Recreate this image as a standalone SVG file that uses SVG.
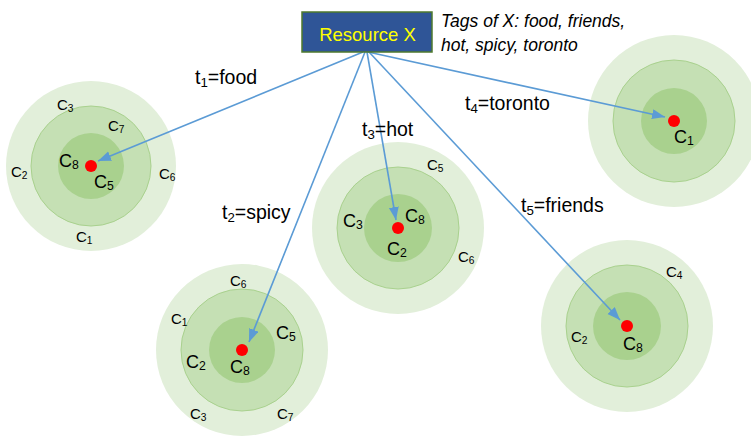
<svg xmlns="http://www.w3.org/2000/svg" width="751" height="436" viewBox="0 0 751 436">
<defs>
<style>
.o{fill:#E2EFDA}
.m{fill:#C5E0B4;stroke:#A9D18E;stroke-width:1}
.i{fill:#A9D18E}
.d{fill:#FF0000}
.c{stroke:#5B9BD5;stroke-width:1.6;fill:none;marker-end:url(#ah)}
text{font-family:"Liberation Sans",Arial,sans-serif;fill:#000}
.s{font-size:15px}
.l{font-size:18px}
.t{font-size:19.5px}
.sub{font-size:68%}
</style>
<marker id="ah" markerUnits="userSpaceOnUse" markerWidth="14" markerHeight="12" refX="13" refY="5" orient="auto">
<path d="M0,0 L13,5 L0,10 z" fill="#5B9BD5"/>
</marker>
</defs>
<rect width="751" height="436" fill="#fff"/>

<g id="cluster-food">
<circle class="o" cx="91" cy="166" r="85"/>
<circle class="m" cx="91" cy="166" r="60"/>
<circle class="i" cx="91" cy="166" r="33"/>
<circle class="d" cx="91" cy="166" r="6"/>
<text class="s" x="57" y="110">C<tspan class="sub" dy="2">3</tspan></text>
<text class="s" x="108" y="131">C<tspan class="sub" dy="2">7</tspan></text>
<text class="l" x="59" y="167">C<tspan class="sub" dy="2">8</tspan></text>
<text class="l" x="94" y="188">C<tspan class="sub" dy="2">5</tspan></text>
<text class="s" x="11" y="177">C<tspan class="sub" dy="2">2</tspan></text>
<text class="s" x="159" y="179">C<tspan class="sub" dy="2">6</tspan></text>
<text class="s" x="76" y="242">C<tspan class="sub" dy="2">1</tspan></text>
</g>

<g id="cluster-spicy">
<circle class="o" cx="242" cy="350" r="86"/>
<circle class="m" cx="242" cy="350" r="61"/>
<circle class="i" cx="242" cy="350" r="33"/>
<circle class="d" cx="242" cy="350" r="6"/>
<text class="s" x="230" y="286">C<tspan class="sub" dy="2">6</tspan></text>
<text class="s" x="171" y="324">C<tspan class="sub" dy="2">1</tspan></text>
<text class="l" x="276" y="339">C<tspan class="sub" dy="2">5</tspan></text>
<text class="l" x="186" y="368">C<tspan class="sub" dy="2">2</tspan></text>
<text class="l" x="230" y="373">C<tspan class="sub" dy="2">8</tspan></text>
<text class="s" x="190" y="419">C<tspan class="sub" dy="2">3</tspan></text>
<text class="s" x="277" y="419">C<tspan class="sub" dy="2">7</tspan></text>
</g>

<g id="cluster-hot">
<circle class="o" cx="398" cy="228" r="86"/>
<circle class="m" cx="398" cy="228" r="61"/>
<circle class="i" cx="398" cy="228" r="34"/>
<circle class="d" cx="398" cy="228" r="6"/>
<text class="s" x="427" y="170">C<tspan class="sub" dy="2">5</tspan></text>
<text class="l" x="343" y="227">C<tspan class="sub" dy="2">3</tspan></text>
<text class="l" x="405" y="222">C<tspan class="sub" dy="2">8</tspan></text>
<text class="l" x="387" y="255">C<tspan class="sub" dy="2">2</tspan></text>
<text class="s" x="458" y="262">C<tspan class="sub" dy="2">6</tspan></text>
</g>

<g id="cluster-friends">
<circle class="o" cx="627" cy="326" r="86"/>
<circle class="m" cx="627" cy="326" r="61"/>
<circle class="i" cx="627" cy="326" r="34"/>
<circle class="d" cx="627" cy="326" r="6"/>
<text class="s" x="666" y="277">C<tspan class="sub" dy="2">4</tspan></text>
<text class="s" x="571" y="342">C<tspan class="sub" dy="2">2</tspan></text>
<text class="l" x="623" y="350">C<tspan class="sub" dy="2">8</tspan></text>
</g>

<g id="cluster-toronto">
<circle class="o" cx="674" cy="121" r="86"/>
<circle class="m" cx="674" cy="121" r="61"/>
<circle class="i" cx="674" cy="121" r="33"/>
<circle class="d" cx="674" cy="121" r="6"/>
<text class="l" x="674" y="143">C<tspan class="sub" dy="2">1</tspan></text>
</g>

<g id="connectors">
<line class="c" x1="363" y1="52" x2="98" y2="161"/>
<line class="c" x1="365" y1="52" x2="249" y2="342"/>
<line class="c" x1="367" y1="52" x2="396" y2="220"/>
<line class="c" x1="368" y1="52" x2="665" y2="117"/>
<line class="c" x1="369" y1="52" x2="620" y2="320"/>
<text class="t" x="195" y="84">t<tspan class="sub" dy="3">1</tspan><tspan dy="-3">=food</tspan></text>
<text class="t" x="222" y="219">t<tspan class="sub" dy="3">2</tspan><tspan dy="-3">=spicy</tspan></text>
<text class="t" x="362" y="136">t<tspan class="sub" dy="3">3</tspan><tspan dy="-3">=hot</tspan></text>
<text class="t" x="465" y="110">t<tspan class="sub" dy="3">4</tspan><tspan dy="-3">=toronto</tspan></text>
<text class="t" x="521" y="212">t<tspan class="sub" dy="3">5</tspan><tspan dy="-3">=friends</tspan></text>
</g>

<g id="resource-x">
<rect x="302" y="12" width="130" height="40" fill="#2F5597" stroke="#4E7A2E" stroke-width="1.5"/>
<text x="367.5" y="41" text-anchor="middle" style="font-size:18.5px;fill:#FFFF00">Resource X</text>
</g>

<g id="tags">
<text x="441" y="27" style="font-size:17.5px;font-style:italic">Tags of X: food, friends,</text>
<text x="441" y="51" style="font-size:17.5px;font-style:italic">hot, spicy, toronto</text>
</g>
</svg>
